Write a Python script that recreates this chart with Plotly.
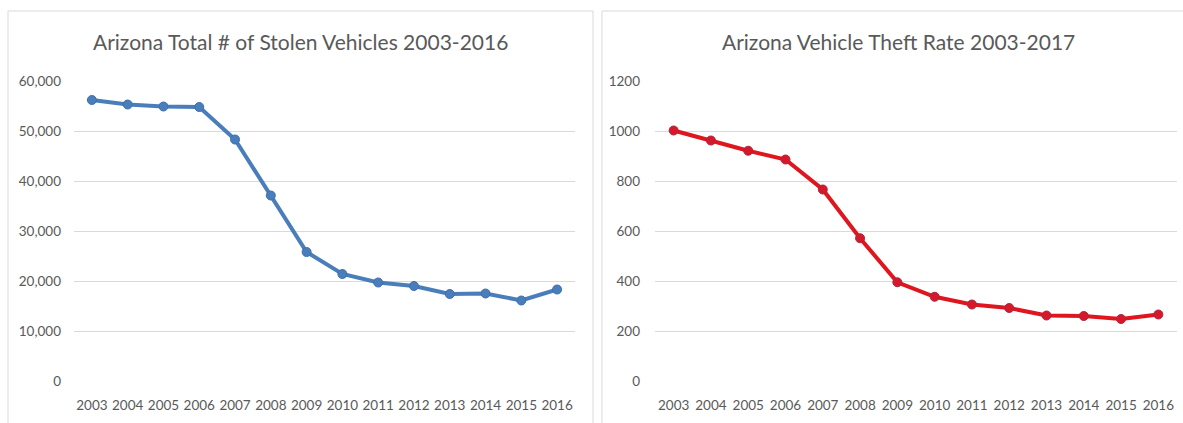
import plotly.graph_objects as go

years = [str(y) for y in range(2003, 2017)]
stolen_vehicles = [56200, 55300, 54900, 54800, 48300, 37100, 25800, 21400, 19700, 19000, 17400, 17500, 16100, 18300]
theft_rate = [1002, 962, 921, 886, 766, 571, 395, 337, 306, 292, 262, 260, 248, 266]

left_ticks = [0, 10000, 20000, 30000, 40000, 50000, 60000]
left_ticktext = ["0", "10,000", "20,000", "30,000", "40,000", "50,000", "60,000"]
right_ticks = [0, 200, 400, 600, 800, 1000, 1200]

W, H = 1183, 423
FONT = "Lato"
TXT = "#595959"
GRID = "#d9d9d9"

fig = go.Figure()
fig.add_trace(go.Scatter(
    x=years, y=stolen_vehicles, xaxis="x", yaxis="y", mode="lines+markers",
    line=dict(color="#4a7ebb", width=4),
    marker=dict(color="#4a7ebb", size=9, line=dict(color="#3f6fad", width=1)),
    showlegend=False, hoverinfo="x+y"))
fig.add_trace(go.Scatter(
    x=years, y=theft_rate, xaxis="x2", yaxis="y2", mode="lines+markers",
    line=dict(color="#e0161e", width=4),
    marker=dict(color="#d8182a", size=9, line=dict(color="#a8283e", width=1)),
    showlegend=False, hoverinfo="x+y"))

ydom = [1 - 381 / H, 1 - 81 / H]
cat_range = [-0.5, len(years) - 0.5]
axis_common = dict(showline=False, zeroline=False, ticks="", automargin=False,
                   tickfont=dict(family=FONT, size=13.5, color=TXT))
fig.update_layout(
    template="none",
    width=W, height=H, margin=dict(l=0, r=0, t=0, b=0),
    paper_bgcolor="white", plot_bgcolor="white",
    xaxis=dict(domain=[74 / W, 575 / W], type="category", range=cat_range, showgrid=False,
               anchor="y", ticklabelstandoff=14, **axis_common),
    yaxis=dict(domain=ydom, range=[0, 60000], tickvals=left_ticks, ticktext=left_ticktext,
               showgrid=True, gridcolor=GRID, gridwidth=1, anchor="x",
               ticklabelstandoff=12, **axis_common),
    xaxis2=dict(domain=[655 / W, 1177 / W], type="category", range=cat_range, showgrid=False,
                anchor="y2", ticklabelstandoff=14, **axis_common),
    yaxis2=dict(domain=ydom, range=[0, 1200], tickvals=right_ticks,
                showgrid=True, gridcolor=GRID, gridwidth=1, anchor="x2",
                ticklabelstandoff=14, **axis_common),
    annotations=[
        dict(text="Arizona Total # of Stolen Vehicles 2003-2016", x=300 / W, y=1 - 41 / H,
             xref="paper", yref="paper", showarrow=False, xanchor="center", yanchor="middle",
             font=dict(family=FONT, size=21, color=TXT)),
        dict(text="Arizona Vehicle Theft Rate 2003-2017", x=898 / W, y=1 - 41 / H,
             xref="paper", yref="paper", showarrow=False, xanchor="center", yanchor="middle",
             font=dict(family=FONT, size=21, color=TXT)),
    ],
    shapes=[
        dict(type="rect", xref="paper", yref="paper", x0=8 / W, x1=593 / W, y0=-0.01, y1=1 - 11 / H,
             line=dict(color="#d9d9d9", width=1), fillcolor="rgba(0,0,0,0)", layer="below"),
        dict(type="rect", xref="paper", yref="paper", x0=602 / W, x1=1.01, y0=-0.01, y1=1 - 11 / H,
             line=dict(color="#d9d9d9", width=1), fillcolor="rgba(0,0,0,0)", layer="below"),
    ],
)

fig.write_html("out.html", config={"displayModeBar": False},
               post_script="document.body.style.margin='0';document.body.style.overflow='hidden';")
